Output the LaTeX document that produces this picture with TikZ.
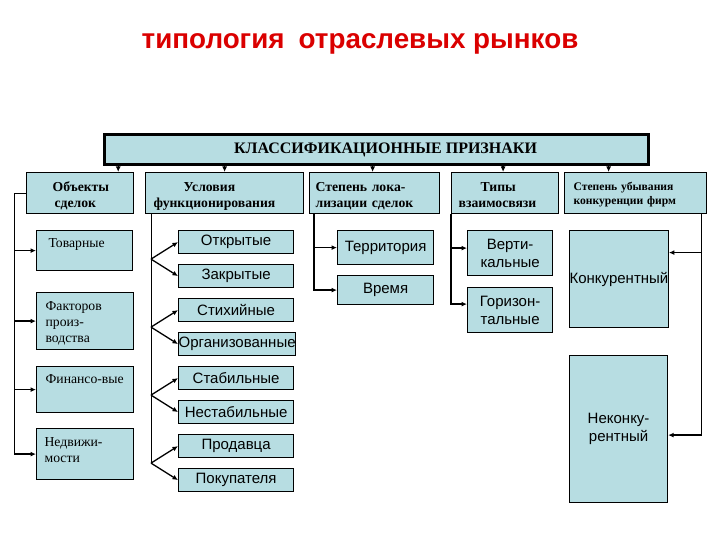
\documentclass[tikz,border=0pt]{standalone}
\usepackage{fontspec}
\setmainfont{Liberation Serif}
\newfontfamily\sansf{Liberation Sans}
\usetikzlibrary{arrows.meta,calc}
\definecolor{boxfill}{RGB}{183,221,226}
\definecolor{titlered}{RGB}{218,0,0}
\begin{document}
\begin{tikzpicture}[x=1pt,y=-1pt,
  box/.style={draw=black, line width=1.2pt, fill=boxfill, inner sep=0pt, anchor=north west},
  catl/.style={box, font=\fontsize{13.7}{16}\selectfont\bfseries, align=left, text height=19, text depth=22},
  sbox/.style={box, font=\sansf\fontsize{15}{18}\selectfont, align=center},
  lbox/.style={box, font=\fontsize{13.7}{16}\selectfont, align=left},
  arr/.style={line width=1.3pt, -{Latex[length=5.5pt,width=5pt]}},
  ln/.style={line width=1pt}]
\useasboundingbox (0,0) rectangle (720,540);

% title
\node[font=\sansf\bfseries\fontsize{27.8}{32}\selectfont, text=titlered, anchor=base] (title) at (360,49) {типология\hspace{14pt}отраслевых рынков};

% top box
\node[box, line width=3pt, minimum width=544, minimum height=30, font=\fontsize{16}{18}\selectfont\bfseries] (top) at (103,133) {\hspace*{18pt}КЛАССИФИКАЦИОННЫЕ ПРИЗНАКИ};

% category boxes
\node[catl, inner xsep=26pt, text width=55] (c1) at (26,172) {Объекты\\\hspace*{2pt}сделок};
\node[catl, inner xsep=8pt, text width=142] (c2) at (145,172) {\hspace*{30pt}Условия\\функционирования};
\node[catl, inner xsep=6pt, text width=118] (c3) at (309,172) {Степень лока-\\лизации сделок};
\node[catl, inner xsep=7pt, text width=93] (c4) at (451,172) {\hspace*{22pt}Типы\\взаимосвязи};
\node[box, font=\fontsize{11.6}{14}\selectfont\bfseries, align=left, inner xsep=9pt, text width=124, text height=18, text depth=23] (c5) at (564,172) {Степень убывания\\конкуренции фирм};

% top arrows
\draw[arr] ([xshift=-16pt]c1.north east |- top.south) -- ([xshift=-16pt]c1.north east);
\draw[arr] (c2.north |- top.south) -- (c2.north);
\draw[arr] ([xshift=-2pt]c3.north |- top.south) -- ([xshift=-2pt]c3.north);
\draw[arr] ([xshift=-2pt]c4.north |- top.south) -- ([xshift=-2pt]c4.north);
\draw[arr] ([xshift=-27pt]c5.north |- top.south) -- ([xshift=-27pt]c5.north);

% column 1 (left)
\node[lbox, inner xsep=12pt, text width=72, text height=17, text depth=23] (o1) at (36,230) {Товарные};
\node[lbox, inner xsep=9pt, text width=79, text height=18, text depth=39] (o2) at (36,292) {Факторов\\произ-\\водства};
\node[lbox, inner xsep=9pt, text width=79, text height=17, text depth=29] (o3) at (36,366) {Финансо-вые};
\node[lbox, inner xsep=8pt, text width=81, text height=18, text depth=33] (o4) at (36,428) {Недвижи-\\мости};

\draw[ln] (c1.west) -- ++(-12,0) coordinate (L0) -- (L0 |- o4.west);
\foreach \n in {o1,o2,o3,o4} \draw[arr] (L0 |- \n.west) -- (\n.west);

% column 2
\node[sbox, minimum width=115, minimum height=23] (a1) at (178,230) {Открытые};
\node[sbox, minimum width=115, minimum height=23] (a2) at (178,264) {Закрытые};
\node[sbox, minimum width=115, minimum height=23] (a3) at (178,298) {Стихийные};
\node[sbox, minimum width=115, minimum height=23] (a4) at (178,332) {Организованные};
\node[sbox, minimum width=115, minimum height=23] (a5) at (178,366) {Стабильные};
\node[sbox, minimum width=115, minimum height=23] (a6) at (178,400) {Нестабильные};
\node[sbox, minimum width=115, minimum height=23] (a7) at (178,434) {Продавца};
\node[sbox, minimum width=115, minimum height=23] (a8) at (178,468) {Покупателя};

\coordinate (V2) at ([xshift=6pt]c2.south west);
\coordinate (f1) at ($(V2 |- a1.west)!0.5!(V2 |- a2.west)$);
\coordinate (f2) at ($(V2 |- a3.west)!0.5!(V2 |- a4.west)$);
\coordinate (f3) at ($(V2 |- a5.west)!0.5!(V2 |- a6.west)$);
\coordinate (f4) at ($(V2 |- a7.west)!0.5!(V2 |- a8.west)$);
\draw[ln] (V2) -- (f4);
\draw[arr] (f1) -- (a1.west); \draw[arr] (f1) -- (a2.west);
\draw[arr] (f2) -- (a3.west); \draw[arr] (f2) -- (a4.west);
\draw[arr] (f3) -- (a5.west); \draw[arr] (f3) -- (a6.west);
\draw[arr] (f4) -- (a7.west); \draw[arr] (f4) -- (a8.west);

% column 3
\node[sbox, minimum width=96, minimum height=34] (t1) at (337,230) {Территория};
\node[sbox, minimum width=96, minimum height=29] (t2) at (337,275) {Время};
\coordinate (V3) at ([xshift=5pt]c3.south west);
\draw[arr] (V3) -- (V3 |- t2.west) -- (t2.west);
\draw[arr] (V3 |- t1.west) -- (t1.west);

% column 4
\node[sbox, minimum width=85, minimum height=45] (v1) at (467,230) {Верти-\\кальные};
\node[sbox, minimum width=85, minimum height=45] (v2) at (467,287) {Горизон-\\тальные};
\coordinate (v1a) at ([yshift=5pt]v1.west);
\coordinate (v2a) at ([yshift=6pt]v2.west);
\coordinate (V4) at (c4.south west);
\draw[arr] (V4) -- (V4 |- v2a) -- (v2a);
\draw[arr] (V4 |- v1a) -- (v1a);

% column 5
\node[sbox, minimum width=98, minimum height=97] (k1) at (569,230) {Конкурентный};
\node[sbox, minimum width=98, minimum height=147] (k2) at (569,355) {Неконку-\\рентный};
\coordinate (k1a) at ([yshift=26.5pt]k1.east);
\coordinate (k2a) at ([yshift=-6pt]k2.east);
\coordinate (V5) at ([xshift=-6pt]c5.south east);
\draw[arr] (V5) -- (V5 |- k2a) -- (k2a);
\draw[arr] (V5 |- k1a) -- (k1a);
\end{tikzpicture}
\end{document}
